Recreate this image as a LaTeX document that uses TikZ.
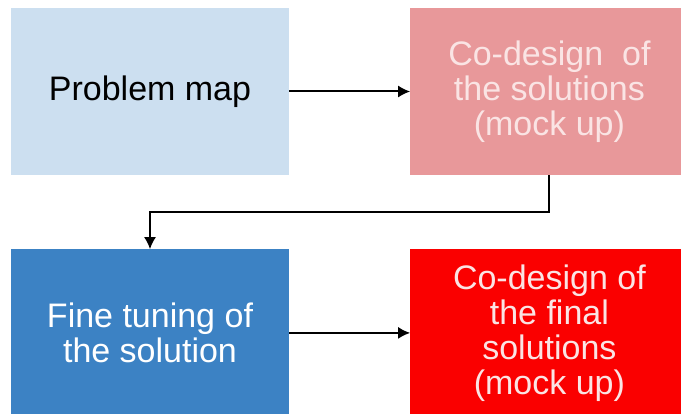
\documentclass[tikz,border=0pt]{standalone}
\usepackage{fontspec}
\setmainfont{Liberation Sans}
\usetikzlibrary{positioning,arrows.meta}

\definecolor{mapblue}{RGB}{204,223,240}
\definecolor{mockpink}{RGB}{232,152,154}
\definecolor{tuneblue}{RGB}{60,130,196}
\definecolor{finalred}{RGB}{250,0,0}
\definecolor{paletext}{RGB}{250,228,228}

\tikzset{
    stagebox/.style={minimum width=278pt,minimum height=167pt,inner sep=0pt,
        align=center,font=\fontsize{34}{35}\selectfont},
    flow/.style={line width=2pt,-{Latex[length=12pt,width=12pt]}}
}

\begin{document}
\begin{tikzpicture}
        \useasboundingbox (0,0) rectangle (681pt,-414pt);
        \clip (0,0) rectangle (681pt,-414pt);
        \fill[white] (0,0) rectangle (681pt,-414pt);
        \node[stagebox,fill=mapblue,text=black] (map) at (150pt,-91.5pt) {Problem map};
        \node[stagebox,fill=mockpink,text=paletext,right=121pt of map] (mock) {Co-design\ \ of\\the solutions\\(mock up)};
        \node[stagebox,fill=tuneblue,text=white,below=74pt of map] (tune) {Fine tuning of\\the solution};
        \node[stagebox,fill=finalred,text=paletext,right=121pt of tune] (final) {Co-design of\\the final\\solutions\\(mock up)};
        \draw[flow] (map) -- (mock);
        \draw[flow] (mock.south) -- ++(0,-37pt) -| (tune.north);
        \draw[flow] (tune) -- (final);
    \end{tikzpicture}
\end{document}
